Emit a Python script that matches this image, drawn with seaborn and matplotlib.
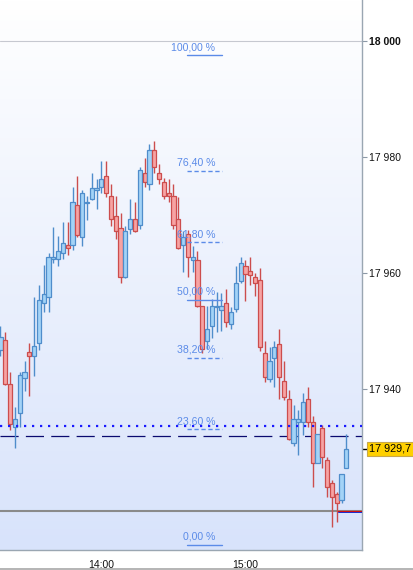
import numpy as np
import pandas as pd
import matplotlib
matplotlib.use("Agg")
import matplotlib.pyplot as plt
import matplotlib.dates as mdates
import matplotlib.transforms as mtransforms
from matplotlib.colors import LinearSegmentedColormap
import seaborn as sns

# 2-minute candles from 13:18
opens = [17946.7, 17948.4, 17940.9, 17933.5, 17935.9, 17941.9, 17946.4, 17945.7, 17947.9, 17954.8,
         17955.8, 17962.4, 17962.4, 17963.4, 17964.8, 17964.8, 17971.7, 17966.2, 17972.1, 17972.7,
         17974.3, 17974.8, 17976.7, 17973.2, 17969.8, 17967.7, 17959.3, 17967.5, 17969.3, 17968.2,
         17977.2, 17975.3, 17981.1, 17977.2, 17975.6, 17973.7, 17973.2, 17969.3, 17964.8, 17966.7,
         17962.2, 17962.2, 17954.3, 17948.3, 17950.8, 17954.2, 17953.6, 17954.8, 17951.2, 17953.8,
         17958.6, 17961.2, 17960.3, 17959.3, 17958.8, 17946.2, 17941.7, 17945.3, 17947.7, 17941.4,
         17938.3, 17930.7, 17934.3, 17934.3, 17938.3, 17934.3, 17927.3, 17933.3, 17927.8, 17923.8,
         17921.9, 17920.9, 17926.4]
highs = [17950.8, 17949.8, 17942.9, 17936.9, 17942.9, 17944.8, 17947.9, 17955.8, 17957.9, 17961.3,
         17963.4, 17967.9, 17966.3, 17968.7, 17968.7, 17974.8, 17976.7, 17974.3, 17973.2, 17977.2,
         17976.1, 17979.2, 17979.2, 17975.3, 17973.2, 17970.3, 17968.1, 17972.7, 17972.2, 17978.2,
         17979.8, 17982.2, 17982.7, 17978.7, 17976.3, 17976.1, 17975.3, 17973.0, 17967.2, 17967.4,
         17964.6, 17963.8, 17954.3, 17954.3, 17955.5, 17956.7, 17956.5, 17957.2, 17954.1, 17961.2,
         17962.7, 17962.2, 17962.7, 17960.0, 17960.8, 17948.3, 17947.2, 17948.3, 17950.3, 17944.8,
         17939.8, 17937.2, 17936.4, 17939.3, 17940.3, 17935.4, 17932.3, 17933.8, 17928.3, 17924.3,
         17922.3, 17925.4, 17932.3]
lows = [17945.7, 17940.7, 17932.9, 17929.8, 17933.5, 17939.7, 17938.8, 17942.2, 17946.7, 17953.3,
        17953.3, 17961.7, 17961.2, 17962.4, 17963.1, 17963.9, 17966.2, 17964.6, 17969.1, 17972.6,
        17971.0, 17973.7, 17973.0, 17968.1, 17965.8, 17958.2, 17959.2, 17966.7, 17967.1, 17967.5,
        17974.8, 17974.3, 17977.2, 17975.3, 17972.7, 17972.2, 17967.5, 17964.1, 17960.1, 17959.3,
        17960.1, 17954.1, 17946.2, 17946.9, 17948.8, 17949.8, 17950.0, 17950.7, 17950.3, 17953.3,
        17958.2, 17955.1, 17957.9, 17956.0, 17946.5, 17941.2, 17941.2, 17940.3, 17938.3, 17938.1,
        17931.2, 17930.2, 17928.6, 17932.1, 17933.5, 17923.1, 17927.3, 17926.4, 17921.4, 17916.3,
        17917.1, 17920.4, 17926.4]
closes = [17949.0, 17940.9, 17934.0, 17934.8, 17942.4, 17942.9, 17945.7, 17947.4, 17955.3, 17956.4,
          17962.7, 17962.7, 17963.8, 17965.1, 17964.3, 17972.2, 17966.5, 17973.7, 17972.2, 17974.6,
          17974.6, 17976.1, 17973.7, 17969.3, 17967.2, 17959.3, 17967.2, 17969.3, 17967.2, 17977.7,
          17975.6, 17981.1, 17978.2, 17976.1, 17973.2, 17973.2, 17968.2, 17964.3, 17966.2, 17962.7,
          17962.7, 17954.3, 17946.9, 17950.3, 17954.3, 17954.3, 17954.3, 17951.5, 17953.3, 17958.2,
          17961.7, 17959.8, 17959.6, 17958.2, 17947.2, 17942.1, 17944.8, 17947.2, 17942.1, 17938.6,
          17931.4, 17934.8, 17934.8, 17937.8, 17934.3, 17927.3, 17932.3, 17928.3, 17923.1, 17921.4,
          17920.4, 17925.4, 17929.7]

# horizontal levels
round_level = 18000
dotted_level = 17933.7
dashed_level = 17932.0
gray_level = 17919.0
fib_low, fib_high = 17913.2, 17997.5
fib_ratios = [0.0, 0.236, 0.382, 0.5, 0.618, 0.764, 1.0]
fib_labels = ["0,00 %", "23,60 %", "38,20 %", "50,00 %", "61,80 %", "76,40 %", "100,00 %"]
fib_dashed = [False, True, True, False, True, True, False]
y_ticks = [17940, 17960, 17980, 18000]

times = pd.date_range("2024-03-01 13:18", periods=len(opens), freq="2min")
x = mdates.date2num(times)
df = pd.DataFrame({"x": x, "open": opens, "high": highs, "low": lows, "close": closes})
df["up"] = df["close"] >= df["open"]

sns.set_style("white")
plt.rcParams["font.family"] = ["Liberation Sans", "DejaVu Sans"]

fig = plt.figure(figsize=(4.14, 5.70), dpi=100)
ax = fig.add_axes([0, 0.0351, 0.8744, 0.9649])

# background gradient
bg = LinearSegmentedColormap.from_list("bg", ["#ffffff", "#d8e3fb"])
ax.imshow(np.linspace(0, 1, 256).reshape(-1, 1), cmap=bg, extent=[0, 1, 0, 1],
          transform=ax.transAxes, aspect="auto", zorder=0)

# candles
up_fill, up_edge = "#a3d3f7", "#4f8dcb"
dn_fill, dn_edge = "#f7a3a3", "#cc4d4d"
w = 1.75 / 1440
for _, r in df.iterrows():
    fill, edge = (up_fill, up_edge) if r["up"] else (dn_fill, dn_edge)
    ax.vlines(r["x"], r["low"], r["high"], color=edge, lw=1.0, zorder=3)
    h = max(abs(r["close"] - r["open"]), 0.1)
    ax.bar(r["x"], h, bottom=min(r["open"], r["close"]), width=w,
           color=fill, edgecolor=edge, linewidth=0.9, zorder=4)

# level lines
ax.axhline(round_level, color="#c6c8d0", lw=0.8, zorder=1)
ax.axhline(dotted_level, color="#1a1aff", lw=1.6, ls=(0, (1, 2.6)), zorder=5)
ax.axhline(dashed_level, color="#0a0a70", lw=0.9, ls=(0, (14.5, 5.8)), zorder=2)
ax.axhline(gray_level, color="#8a8a8a", lw=1.5, zorder=2)
ax.axhline(gray_level + 0.1, xmin=0.934, xmax=1, color="#d01010", lw=0.9, zorder=3)
ax.axhline(gray_level - 0.12, xmin=0.934, xmax=1, color="#1a2ad0", lw=0.7, zorder=3)

# fibonacci levels
fib_col = "#5b8be8"
for ratio, lab, dashed in zip(fib_ratios, fib_labels, fib_dashed):
    lvl = fib_low + ratio * (fib_high - fib_low)
    ax.axhline(lvl, xmin=0.517, xmax=0.613, color=fib_col, lw=1.0,
               ls=(0, (3.1, 1.9)) if dashed else "-", zorder=6)
    ax.annotate(lab, xy=(0.594, lvl), xycoords=ax.get_yaxis_transform(),
                xytext=(0, 2.2), textcoords="offset points", ha="right", va="bottom",
                color=fib_col, fontsize=7.6, zorder=7)

# axes limits and ticks
ax.set_xlim(mdates.date2num(pd.Timestamp("2024-03-01 13:18")) - 0.2 / 1440,
            mdates.date2num(pd.Timestamp("2024-03-01 15:48:30")))
ax.set_ylim(17912.3, 18007.0)

ax.xaxis.set_major_locator(mdates.HourLocator())
ax.xaxis.set_major_formatter(mdates.DateFormatter("%H:%M"))
ax.yaxis.tick_right()
ax.set_yticks(y_ticks)
ax.set_yticklabels([f"{v:,.0f}".replace(",", " ") for v in y_ticks])
for lbl in ax.get_yticklabels():
    if lbl.get_text() == "18 000":
        lbl.set_fontweight("bold")
ax.tick_params(axis="y", which="major", direction="out", length=3.6, width=0.8,
               color="#8c98a6", pad=1.5, labelsize=7.5, labelcolor="#111111")
ax.tick_params(axis="x", direction="out", length=3.0, width=0.8, color="#8c98a6",
               pad=4.5, labelsize=7.5, labelcolor="#111111")
ax.set_yticks([closes[-1]], minor=True)
ax.tick_params(axis="y", which="minor", direction="out", length=3.6, width=1.0,
               color="black", labelright=False, right=True, left=False)

for side in ["top", "left"]:
    ax.spines[side].set_visible(False)
for side in ["right", "bottom"]:
    ax.spines[side].set_color("#9aa6b2")
    ax.spines[side].set_linewidth(1.0)

# last price label
last = closes[-1]
ax.annotate(f"{last:,.1f}".replace(",", " ").replace(".", ","), xy=(1.0, last),
            xycoords=ax.get_yaxis_transform(), xytext=(5.2, 0), textcoords="offset points",
            ha="left", va="center", fontsize=7.8, color="black", annotation_clip=False,
            bbox=dict(boxstyle="square,pad=0.22", fc="#ffd000", ec="#c8a84a", lw=0.8))

# bottom border line of the window
fig.add_artist(plt.Line2D([0, 1], [0.0018, 0.0018], color="#a8a8a8", lw=1.2))

fig.savefig("out.png", dpi=100)
